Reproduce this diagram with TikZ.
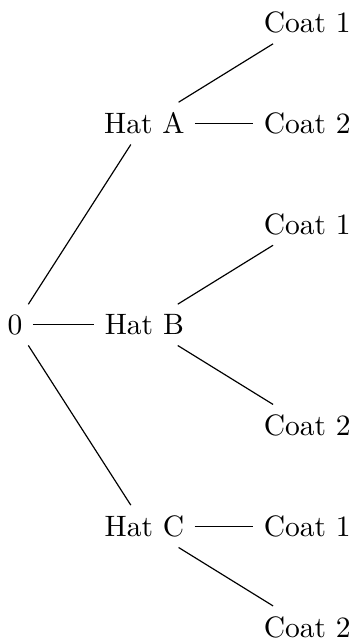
\documentclass[tikz,border=0pt]{standalone}
\usepackage{amsmath}

\begin{document}
\begin{tikzpicture}[x=1cm,y=1.2cm]
      \useasboundingbox (-0.18cm,-3.79cm) rectangle (4.14cm,3.87cm);
      \node (Root) at (0,0) {0};
      \node (HatA) at (1.54,2) {Hat A};
      \node (HatB) at (1.54,0) {Hat B};
      \node (HatC) at (1.54,-2) {Hat C};
      \node (CoatAOne) at (3.48,3) {Coat 1};
      \node (CoatATwo) at (3.48,2) {Coat 2};
      \node (CoatBOne) at (3.48,1) {Coat 1};
      \node (CoatBTwo) at (3.48,-1) {Coat 2};
      \node (CoatCOne) at (3.48,-2) {Coat 1};
      \node (CoatCTwo) at (3.48,-3) {Coat 2};
      \draw (Root) -- (HatA);
      \draw (Root) -- (HatB);
      \draw (Root) -- (HatC);
      \draw (HatA) -- (CoatAOne);
      \draw (HatA) -- (CoatATwo);
      \draw (HatB) -- (CoatBOne);
      \draw (HatB) -- (CoatBTwo);
      \draw (HatC) -- (CoatCOne);
      \draw (HatC) -- (CoatCTwo);
\end{tikzpicture}
\end{document}
